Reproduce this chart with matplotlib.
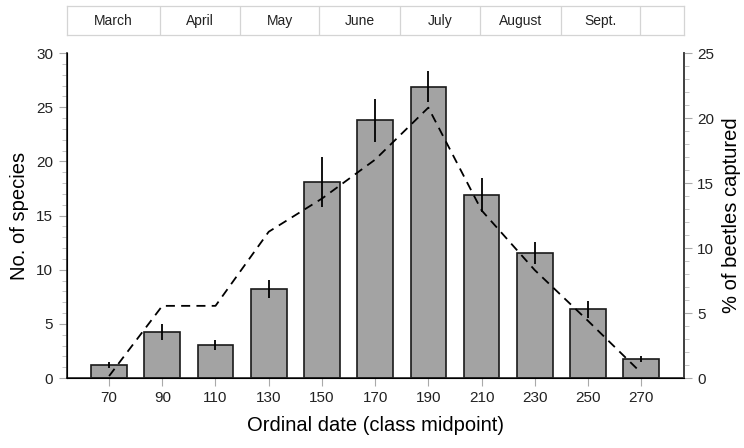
import matplotlib.pyplot as plt
import numpy as np
from matplotlib.ticker import MultipleLocator

plt.rcParams['font.family'] = ['Liberation Sans', 'DejaVu Sans']
plt.rcParams['lines.scale_dashes'] = False

# class midpoints (ordinal date)
midpoints = [70, 90, 110, 130, 150, 170, 190, 210, 230, 250, 270]
# no. of species (bars) and their error
species = [1.2, 4.25, 3.05, 8.2, 18.1, 23.8, 26.9, 16.9, 11.55, 6.35, 1.75]
species_err = [0.25, 0.75, 0.45, 0.85, 2.3, 2.0, 1.4, 1.6, 1.0, 0.8, 0.3]
# % of beetles captured (dashed line, right axis)
pct_beetles = [0.15, 5.55, 5.55, 11.25, 13.8, 16.8, 20.8, 12.9, 8.3, 4.4, 0.4]

# month strip on top
months = ['March', 'April', 'May', 'June', 'July', 'August', 'Sept.', '']
month_edges = [54, 89.3, 119.2, 149, 179.3, 209.5, 239.7, 269.5, 286]

fig = plt.figure(figsize=(7.44, 4.48), dpi=100)
ax = fig.add_axes([0.0894, 0.15625, 0.8296, 0.7254])

ax.bar(midpoints, species, width=13.4, color='#a3a3a3', edgecolor='#1a1a1a',
       linewidth=1.2, zorder=2)
ax.errorbar(midpoints, species, yerr=species_err, fmt='none', ecolor='black',
            elinewidth=1.3, capsize=0, zorder=3)

ax.set_xlim(54, 286)
ax.set_ylim(0, 30)
ax.set_xticks(midpoints)
ax.yaxis.set_major_locator(MultipleLocator(5))
ax.yaxis.set_minor_locator(MultipleLocator(1))
ax.tick_params(axis='both', which='major', labelsize=11, colors='#aaaaaa',
               labelcolor='#222222', length=6, width=0.8)
ax.tick_params(axis='y', which='minor', colors='#bbbbbb', length=3.5, width=0.6)
ax.set_ylabel('No. of species', fontsize=14.5, labelpad=5)
ax.set_xlabel('Ordinal date (class midpoint)', fontsize=14.5, labelpad=8)
ax.spines['top'].set_visible(False)
for s in ['left', 'bottom', 'right']:
    ax.spines[s].set_linewidth(1.2)
    ax.spines[s].set_color('#222222')

ax2 = ax.twinx()
ax2.plot(midpoints, pct_beetles, color='black', linewidth=1.3,
         linestyle=(0, (6.5, 4.5)), zorder=4)
ax2.set_ylim(0, 25)
ax2.yaxis.set_major_locator(MultipleLocator(5))
ax2.yaxis.set_minor_locator(MultipleLocator(1))
ax2.tick_params(axis='y', which='major', labelsize=11, colors='#aaaaaa',
                labelcolor='#222222', length=6, width=0.8)
ax2.tick_params(axis='y', which='minor', colors='#bbbbbb', length=3.5, width=0.6)
ax2.set_ylabel('% of beetles captured', fontsize=14.5, labelpad=6)
ax2.spines['top'].set_visible(False)
ax2.spines['right'].set_color('#444444')
ax2.spines['right'].set_linewidth(1.2)

# month strip
axm = fig.add_axes([0.0894, 0.921, 0.8296, 0.0654])
axm.set_xlim(54, 286)
axm.set_ylim(0, 1)
axm.set_xticks([])
axm.set_yticks([])
for s in axm.spines.values():
    s.set_color('#d4d4d4')
    s.set_linewidth(0.9)
for e in month_edges[1:-1]:
    axm.axvline(e, color='#d4d4d4', linewidth=0.9)
for i, m in enumerate(months):
    axm.text((month_edges[i] + month_edges[i + 1]) / 2, 0.5, m,
             ha='center', va='center', fontsize=10, color='#222222')

fig.savefig('out.png', dpi=100)
